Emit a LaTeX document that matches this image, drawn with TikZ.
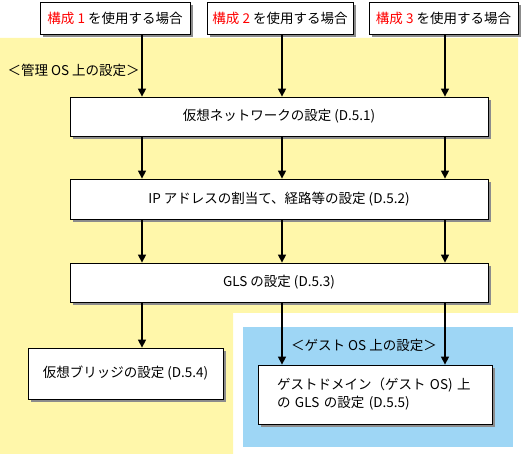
\documentclass[tikz,border=0pt]{standalone}
\usepackage{fontspec}
\setmainfont{Noto Sans CJK JP}
\usetikzlibrary{arrows.meta,shadows}
\definecolor{mgmtyellow}{RGB}{255,247,170}
\definecolor{guestblue}{RGB}{158,214,245}

\begin{document}
\begin{tikzpicture}[x=1pt,y=-1pt,
  every node/.style={font=\fontsize{13.5}{18}\selectfont},
  stepbox/.style={draw,fill=white,line width=0.8pt,inner sep=0pt,
    drop shadow={shadow xshift=3pt,shadow yshift=-3pt,fill=black!45,opacity=1}},
  flow/.style={line width=1.4pt,-{Triangle[length=8pt,width=8pt]}}]
\useasboundingbox (0,0) rectangle (530,454);
% background areas
\fill[mgmtyellow] (0,38) -- (518,38) -- (518,313) -- (233,313) -- (233,454) -- (0,454) -- cycle;
\fill[guestblue] (243,327) rectangle (513,447);
\node[anchor=west] (mgmtlbl) at (4,70) {＜管理 OS 上の設定＞};
\node (guestlbl) at (364,345) {＜ゲスト OS 上の設定＞};
% the three configurations
\node[stepbox,minimum width=150pt,minimum height=32pt] (cfg1) at (115,18) {\textcolor{red}{構成 1} を使用する場合};
\node[stepbox,minimum width=146pt,minimum height=32pt] (cfg2) at (280,18) {\textcolor{red}{構成 2} を使用する場合};
\node[stepbox,minimum width=149pt,minimum height=32pt] (cfg3) at (443.5,18) {\textcolor{red}{構成 3} を使用する場合};
% steps
\node[stepbox,minimum width=418pt,minimum height=39pt] (net) at (279,116.5) {仮想ネットワークの設定 (D.5.1)};
\node[stepbox,minimum width=418pt,minimum height=40pt] (ip) at (279,199) {IP アドレスの割当て、経路等の設定 (D.5.2)};
\node[stepbox,minimum width=418pt,minimum height=39pt] (gls) at (279,282.5) {GLS の設定 (D.5.3)};
\node[stepbox,minimum width=195pt,minimum height=51pt] (bridge) at (125.5,373.5) {仮想ブリッジの設定 (D.5.4)};
\node[stepbox,minimum width=234pt,minimum height=59pt,align=left,text width=196pt] (guest) at (375,394.5) {ゲストドメイン（ゲスト OS) 上\\の GLS の設定 (D.5.5)};
% columns of the arrows
\coordinate (colA) at (142,0);
\coordinate (colB) at (282,0);
\coordinate (colC) at (445,0);
\foreach \c/\s in {A/cfg1,B/cfg2,C/cfg3} {
  \draw[flow] (\s.south -| col\c) -- (net.north -| col\c);
}
\foreach \c in {A,B,C} {
  \draw[flow] (net.south -| col\c) -- (ip.north -| col\c);
  \draw[flow] (ip.south -| col\c) -- (gls.north -| col\c);
}
\draw[flow] (gls.south -| colA) -- (bridge.north -| colA);
\draw[flow] (gls.south -| colB) -- (guest.north -| colB);
\draw[flow] (gls.south -| colC) -- (guest.north -| colC);
\end{tikzpicture}
\end{document}
